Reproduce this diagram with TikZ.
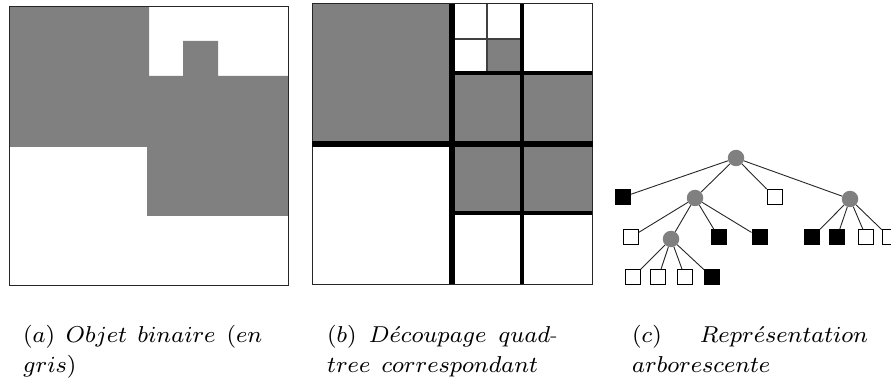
\documentclass[tikz,border=0pt]{standalone}
\DeclareFontFamily{OML}{cmmviii}{\skewchar\font=127}
\DeclareFontShape{OML}{cmmviii}{m}{it}{<-> cmmi8}{}
\DeclareFontFamily{OT1}{cmrviii}{}
\DeclareFontShape{OT1}{cmrviii}{m}{n}{<-> cmr8}{}
\SetSymbolFont{letters}{normal}{OML}{cmmviii}{m}{it}
\SetSymbolFont{operators}{normal}{OT1}{cmrviii}{m}{n}
\definecolor{qgray}{RGB}{128,128,128}
\begin{document}
\begin{tikzpicture}[x=1pt,y=-1pt,
  gr/.style={fill=qgray, draw=none},
  frame/.style={draw=black!85, line width=1pt},
  thickline/.style={line width=6.5pt},
  midline/.style={line width=3.8pt},
  thinline/.style={line width=1.8pt, draw=black!75},
  cnode/.style={circle, fill=qgray, minimum size=16.5pt, inner sep=0pt},
  wleaf/.style={rectangle, draw=black, fill=white, line width=1pt, minimum size=15pt, inner sep=0pt},
  bleaf/.style={wleaf, fill=black},
  edge/.style={draw=black!85, line width=0.9pt},
  captxt/.style={anchor=base west, inner sep=0pt, font=\fontsize{23}{30}\selectfont}]
\useasboundingbox (0,0) rectangle (891,387);
\clip (0,0) rectangle (891,387);

% ---------- (a) binary object ----------
\fill[gr] (9,7) -- (149,7) -- (149,76) -- (183,76) -- (183,41) -- (218,41) -- (218,76)
  -- (288,76) -- (288,216) -- (147,216) -- (147,147) -- (9,147) -- cycle;
\draw[frame] (9,7) rectangle (288,285);

% ---------- (b) quadtree ----------
\fill[gr] (312,4) rectangle (452,144);
\fill[gr] (487,39) rectangle (522,73);
\fill[gr] (452,73) rectangle (592,213);
\draw[frame] (312,4) rectangle (592,284);
\draw[thinline] (487,4) -- (487,73);
\draw[thinline] (452,39) -- (522,39);
\draw[midline] (452,73) -- (592,73);
\draw[midline] (452,213) -- (592,213);
\draw[midline] (522,4) -- (522,284);
\draw[thickline] (312,144) -- (593,144);
\draw[thickline] (452,4) -- (452,284);

% ---------- (c) tree ----------
\node[cnode] (R) at (736,158) {};
\node[bleaf] (b1) at (623,197) {};
\node[cnode] (c1) at (695,198) {};
\node[wleaf] (w1) at (774.5,197) {};
\node[cnode] (c2) at (850,199) {};
\node[wleaf] (w2) at (630.7,237.3) {};
\node[cnode] (c3) at (671,239) {};
\node[bleaf] (b2) at (718.7,237.3) {};
\node[bleaf] (b3) at (759.5,237.3) {};
\node[bleaf] (b4) at (812,237.3) {};
\node[bleaf] (b5) at (837,237.3) {};
\node[wleaf] (w3) at (866.3,237.3) {};
\node[wleaf] (w4) at (889.7,237.3) {};
\node[wleaf] (w5) at (632.8,277.3) {};
\node[wleaf] (w6) at (658.3,277.3) {};
\node[wleaf] (w7) at (685,277.3) {};
\node[bleaf] (b6) at (712.2,277.3) {};
\foreach \a/\b in {R/b1,R/c1,R/w1,R/c2,c1/w2,c1/c3,c1/b2,c1/b3,c2/b4,c2/b5,c2/w3,c2/w4,c3/w5,c3/w6,c3/w7,c3/b6}
  \draw[edge] (\a) -- (\b);

% ---------- captions ----------
\node[captxt] (ta1) at (23,342) {\makebox[239pt][s]{$(a)$ $Objet$ $binaire$ $(en$}};
\node[captxt] (ta2) at (23,372) {$gris)$};
\node[captxt] (tb1) at (327,342) {\makebox[230pt][s]{$(b)$ $D\acute{e}coupage$ $quad$-}};
\node[captxt] (tb2) at (327,372) {\makebox[211pt][s]{$tree$ $correspondant$}};
\node[captxt] (tc1) at (632,342) {\makebox[236pt][s]{$(c)$ $Repr\acute{e}sentation$}};
\node[captxt] (tc3) at (632,372) {$arborescente$};
\end{tikzpicture}
\end{document}
